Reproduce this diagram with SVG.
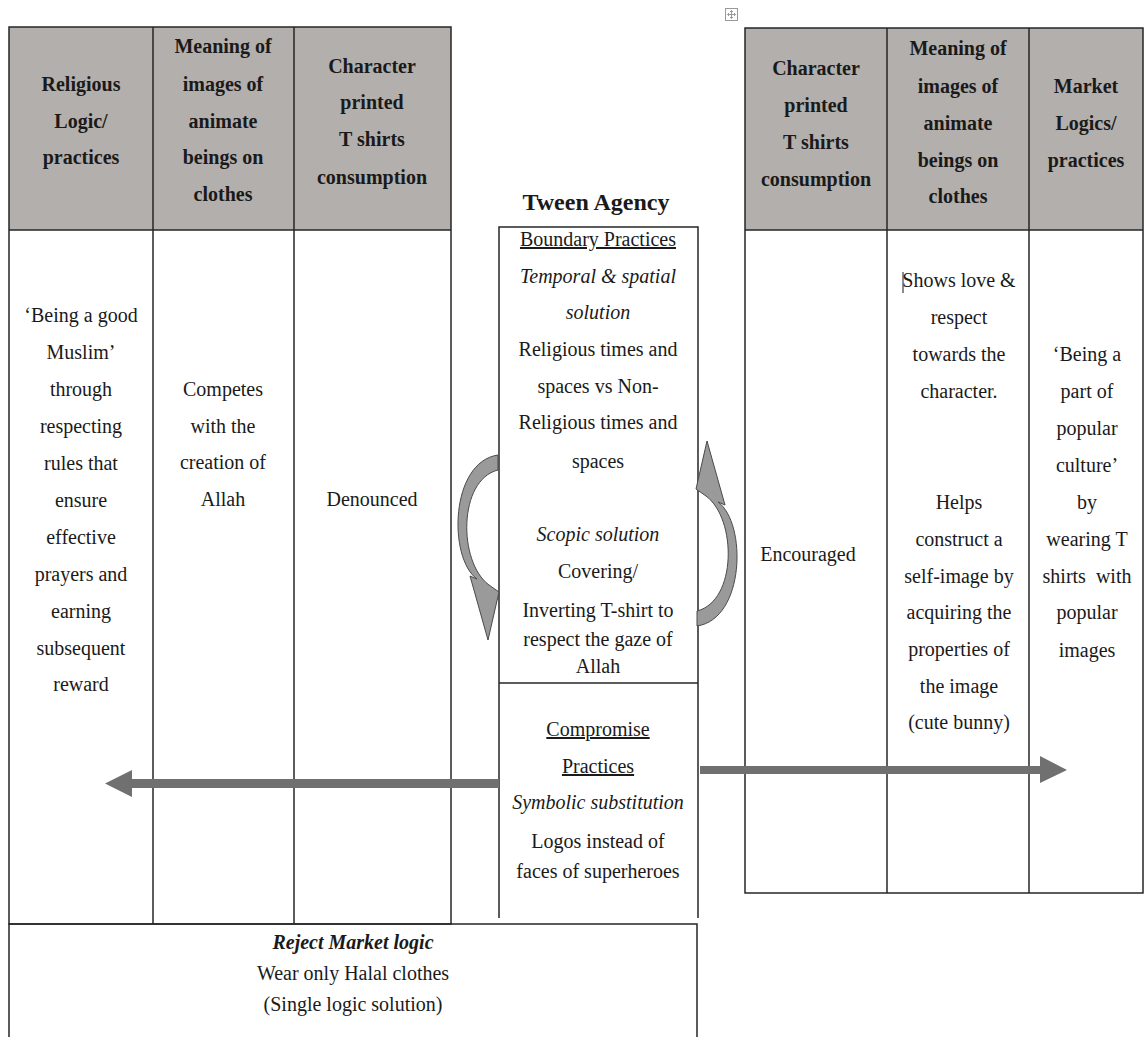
<svg xmlns="http://www.w3.org/2000/svg" width="1144" height="1037" viewBox="0 0 1144 1037" font-family="'Liberation Serif', 'DejaVu Serif', serif">
  <style>
    text { font-family: "Liberation Serif", "DejaVu Serif", serif; }
    .t { font-size: 20px; fill: #1a1a1a; text-anchor: middle; }
    .b { font-weight: bold; }
    .i { font-style: italic; }
    .u { text-decoration: underline; }
    .hd { fill: #b3afad; stroke: none; }
    .ln { stroke: #262626; stroke-width: 1.5; fill: none; }
    .bar { fill: #707070; }
    .curve { fill: #9a9a9a; stroke: #4a4a4a; stroke-width: 1; }
  </style>
  <defs>
    <!-- curved arrow: band from the box edge, bowing outwards, ending in a head -->
    <path id="curved" d="M 498 455 C 450 462, 448 558, 477 579 L 470 576 L 488 640 L 499 592 L 489 585 C 458 562, 458 480, 498 470 Z"/>
  </defs>
  <rect width="1144" height="1037" fill="#ffffff"/>

  <!-- table move handle -->
  <g id="move-handle" stroke="#9a9a9a" fill="none" stroke-width="1">
    <rect x="725.5" y="8.5" width="12" height="12"/>
    <path d="M731.5 10.5 V18.5 M727.5 14.5 H735.5"/>
    <path d="M730 12 L731.5 10.5 L733 12 M730 17 L731.5 18.5 L733 17 M729 13 L727.5 14.5 L729 16 M734 13 L735.5 14.5 L734 16"/>
  </g>

  <!-- religious side table -->
  <g id="religious-table">
    <rect class="hd" x="9" y="27" width="442" height="203"/>
    <rect class="ln" x="9" y="27" width="442" height="897"/>
    <line class="ln" x1="9" y1="230" x2="451" y2="230"/>
    <line class="ln" x1="153" y1="27" x2="153" y2="924"/>
    <line class="ln" x1="294" y1="27" x2="294" y2="924"/>
  </g>
  <g id="religious-logic">
    <text class="t b" x="81" y="91">Religious</text>
    <text class="t b" x="81" y="128">Logic/</text>
    <text class="t b" x="81" y="164">practices</text>
    <text class="t" x="81" y="322">‘Being a good</text>
    <text class="t" x="81" y="359">Muslim’</text>
    <text class="t" x="81" y="396">through</text>
    <text class="t" x="81" y="433">respecting</text>
    <text class="t" x="81" y="470">rules that</text>
    <text class="t" x="81" y="507">ensure</text>
    <text class="t" x="81" y="544">effective</text>
    <text class="t" x="81" y="581">prayers and</text>
    <text class="t" x="81" y="618">earning</text>
    <text class="t" x="81" y="655">subsequent</text>
    <text class="t" x="81" y="691">reward</text>
  </g>
  <g id="religious-meaning">
    <text class="t b" x="223" y="53">Meaning of</text>
    <text class="t b" x="223" y="91">images of</text>
    <text class="t b" x="223" y="128">animate</text>
    <text class="t b" x="223" y="164">beings on</text>
    <text class="t b" x="223" y="201">clothes</text>
    <text class="t" x="223" y="396">Competes</text>
    <text class="t" x="223" y="433">with the</text>
    <text class="t" x="223" y="469">creation of</text>
    <text class="t" x="223" y="506">Allah</text>
  </g>
  <g id="religious-consumption">
    <text class="t b" x="372" y="73">Character</text>
    <text class="t b" x="372" y="109">printed</text>
    <text class="t b" x="372" y="146">T shirts</text>
    <text class="t b" x="372" y="184">consumption</text>
    <text class="t" x="372" y="506">Denounced</text>
  </g>

  <!-- market side table -->
  <g id="market-table">
    <rect class="hd" x="745" y="28" width="398" height="202"/>
    <rect class="ln" x="745" y="28" width="398" height="865"/>
    <line class="ln" x1="745" y1="230" x2="1143" y2="230"/>
    <line class="ln" x1="887" y1="28" x2="887" y2="893"/>
    <line class="ln" x1="1029" y1="28" x2="1029" y2="893"/>
  </g>
  <g id="market-consumption">
    <text class="t b" x="816" y="75">Character</text>
    <text class="t b" x="816" y="112">printed</text>
    <text class="t b" x="816" y="149">T shirts</text>
    <text class="t b" x="816" y="186">consumption</text>
    <text class="t" x="808" y="561">Encouraged</text>
  </g>
  <g id="market-meaning">
    <text class="t b" x="958" y="55">Meaning of</text>
    <text class="t b" x="958" y="93">images of</text>
    <text class="t b" x="958" y="130">animate</text>
    <text class="t b" x="958" y="167">beings on</text>
    <text class="t b" x="958" y="203">clothes</text>
    <line x1="903" y1="272" x2="903" y2="293" stroke="#1a1a1a" stroke-width="1"/>
    <text class="t" x="959" y="287">Shows love &amp;</text>
    <text class="t" x="959" y="324">respect</text>
    <text class="t" x="959" y="361">towards the</text>
    <text class="t" x="959" y="398">character.</text>
    <text class="t" x="959" y="509">Helps</text>
    <text class="t" x="959" y="546">construct a</text>
    <text class="t" x="959" y="583">self-image by</text>
    <text class="t" x="959" y="619">acquiring the</text>
    <text class="t" x="959" y="656">properties of</text>
    <text class="t" x="959" y="693">the image</text>
    <text class="t" x="959" y="729">(cute bunny)</text>
  </g>
  <g id="market-logic">
    <text class="t b" x="1086" y="93">Market</text>
    <text class="t b" x="1086" y="130">Logics/</text>
    <text class="t b" x="1086" y="167">practices</text>
    <text class="t" x="1087" y="361">‘Being a</text>
    <text class="t" x="1087" y="398">part of</text>
    <text class="t" x="1087" y="435">popular</text>
    <text class="t" x="1087" y="472">culture’</text>
    <text class="t" x="1087" y="509">by</text>
    <text class="t" x="1087" y="546">wearing T</text>
    <text class="t" x="1087" y="583" xml:space="preserve">shirts  with</text>
    <text class="t" x="1087" y="619">popular</text>
    <text class="t" x="1087" y="657">images</text>
  </g>

  <!-- tween agency column -->
  <g id="tween-agency">
    <text class="t b" x="596" y="210" style="font-size:24px">Tween Agency</text>
    <path class="ln" d="M499 918 V227 H698 V918"/>
  </g>
  <g id="boundary-practices">
    <text class="t u" x="598" y="246">Boundary Practices</text>
    <text class="t i" x="598" y="283">Temporal &amp; spatial</text>
    <text class="t i" x="598" y="319">solution</text>
    <text class="t" x="598" y="356">Religious times and</text>
    <text class="t" x="598" y="393">spaces vs Non-</text>
    <text class="t" x="598" y="429">Religious times and</text>
    <text class="t" x="598" y="468">spaces</text>
    <text class="t i" x="598" y="541">Scopic solution</text>
    <text class="t" x="598" y="578">Covering/</text>
    <text class="t" x="598" y="617">Inverting T-shirt to</text>
    <text class="t" x="598" y="646">respect the gaze of</text>
    <text class="t" x="598" y="673">Allah</text>
  </g>
  <g id="compromise-practices">
    <line class="ln" x1="499" y1="683" x2="698" y2="683"/>
    <text class="t u" x="598" y="736">Compromise</text>
    <text class="t u" x="598" y="773">Practices</text>
    <text class="t i" x="598" y="809">Symbolic substitution</text>
    <text class="t" x="598" y="848">Logos instead of</text>
    <text class="t" x="598" y="878">faces of superheroes</text>
  </g>

  <!-- single logic solution -->
  <g id="reject-market-logic">
    <path class="ln" d="M9 1037 V924 H697 V1037"/>
    <text class="t b i" x="353" y="949">Reject Market logic</text>
    <text class="t" x="353" y="980">Wear only Halal clothes</text>
    <text class="t" x="353" y="1011">(Single logic solution)</text>
  </g>

  <!-- connectors -->
  <g id="connectors">
    <path class="bar" d="M499 779 H132 V770 L105 783.5 L132 797 V788 H499 Z"/>
    <path class="bar" d="M700 766 H1040 V756 L1067 770 L1040 783 V774 H700 Z"/>
    <use href="#curved" class="curve"/>
    <use href="#curved" class="curve" transform="rotate(180 597.5 540.5)"/>
  </g>
</svg>
